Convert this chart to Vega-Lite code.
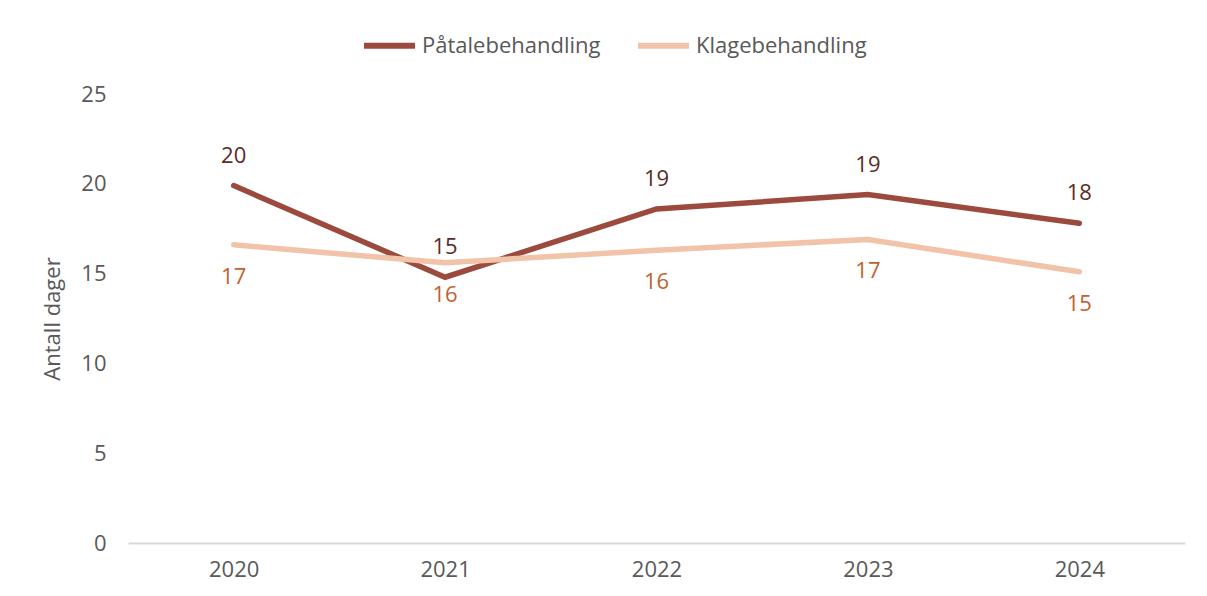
{
  "$schema": "https://vega.github.io/schema/vega-lite/v6.json",
  "autosize": {"type": "none"},
  "width": 1057,
  "height": 449,
  "padding": {"left": 128, "top": 94, "right": 22, "bottom": 53},
  "background": "white",
  "config": {
    "view": {"stroke": null},
    "font": "Open Sans"
  },
  "data": {
    "values": [
      {"year": "2020", "serie": "Påtalebehandling", "dager": 19.9},
      {"year": "2021", "serie": "Påtalebehandling", "dager": 14.8},
      {"year": "2022", "serie": "Påtalebehandling", "dager": 18.6},
      {"year": "2023", "serie": "Påtalebehandling", "dager": 19.4},
      {"year": "2024", "serie": "Påtalebehandling", "dager": 17.8},
      {"year": "2020", "serie": "Klagebehandling", "dager": 16.6},
      {"year": "2021", "serie": "Klagebehandling", "dager": 15.6},
      {"year": "2022", "serie": "Klagebehandling", "dager": 16.3},
      {"year": "2023", "serie": "Klagebehandling", "dager": 16.9},
      {"year": "2024", "serie": "Klagebehandling", "dager": 15.1}
    ]
  },
  "encoding": {
    "x": {
      "field": "year", "type": "ordinal",
      "scale": {"type": "point", "padding": 0.5},
      "axis": {
        "title": null, "labelAngle": 0, "ticks": false,
        "domainColor": "#d9d9d9", "domainWidth": 2,
        "labelFontSize": 22, "labelColor": "#595959", "labelPadding": 16
      }
    },
    "y": {
      "field": "dager", "type": "quantitative",
      "scale": {"domain": [0, 25], "nice": false},
      "axis": {
        "title": "Antall dager", "titleFontSize": 22, "titleFontWeight": "normal",
        "titleColor": "#595959", "titlePadding": 16,
        "values": [0, 5, 10, 15, 20, 25],
        "grid": false, "domain": false, "ticks": false,
        "labelFontSize": 22, "labelColor": "#595959", "labelPadding": 22
      }
    }
  },
  "layer": [
    {
      "mark": {"type": "line", "strokeWidth": 5.5, "strokeCap": "round", "strokeJoin": "miter"},
      "encoding": {
        "color": {
          "field": "serie", "type": "nominal",
          "scale": {"domain": ["Påtalebehandling", "Klagebehandling"], "range": ["#9c4a3e", "#f1c3a9"]},
          "legend": {
            "title": null, "orient": "none", "direction": "horizontal",
            "legendX": 233, "legendY": -77,
            "symbolType": "stroke", "symbolSize": 2600, "symbolStrokeWidth": 6,
            "labelFontSize": 22, "labelColor": "#595959", "labelOffset": 4, "labelLimit": 0,
            "columnPadding": 25
          }
        }
      }
    },
    {
      "transform": [{"filter": "datum.serie === 'Påtalebehandling'"}],
      "mark": {"type": "text", "dy": -30, "fontSize": 22, "color": "#5b2b26"},
      "encoding": {"text": {"field": "dager", "type": "quantitative", "format": ".0f"}}
    },
    {
      "transform": [{"filter": "datum.serie === 'Klagebehandling'"}],
      "mark": {"type": "text", "dy": 32, "fontSize": 22, "color": "#c0622e"},
      "encoding": {"text": {"field": "dager", "type": "quantitative", "format": ".0f"}}
    }
  ]
}
